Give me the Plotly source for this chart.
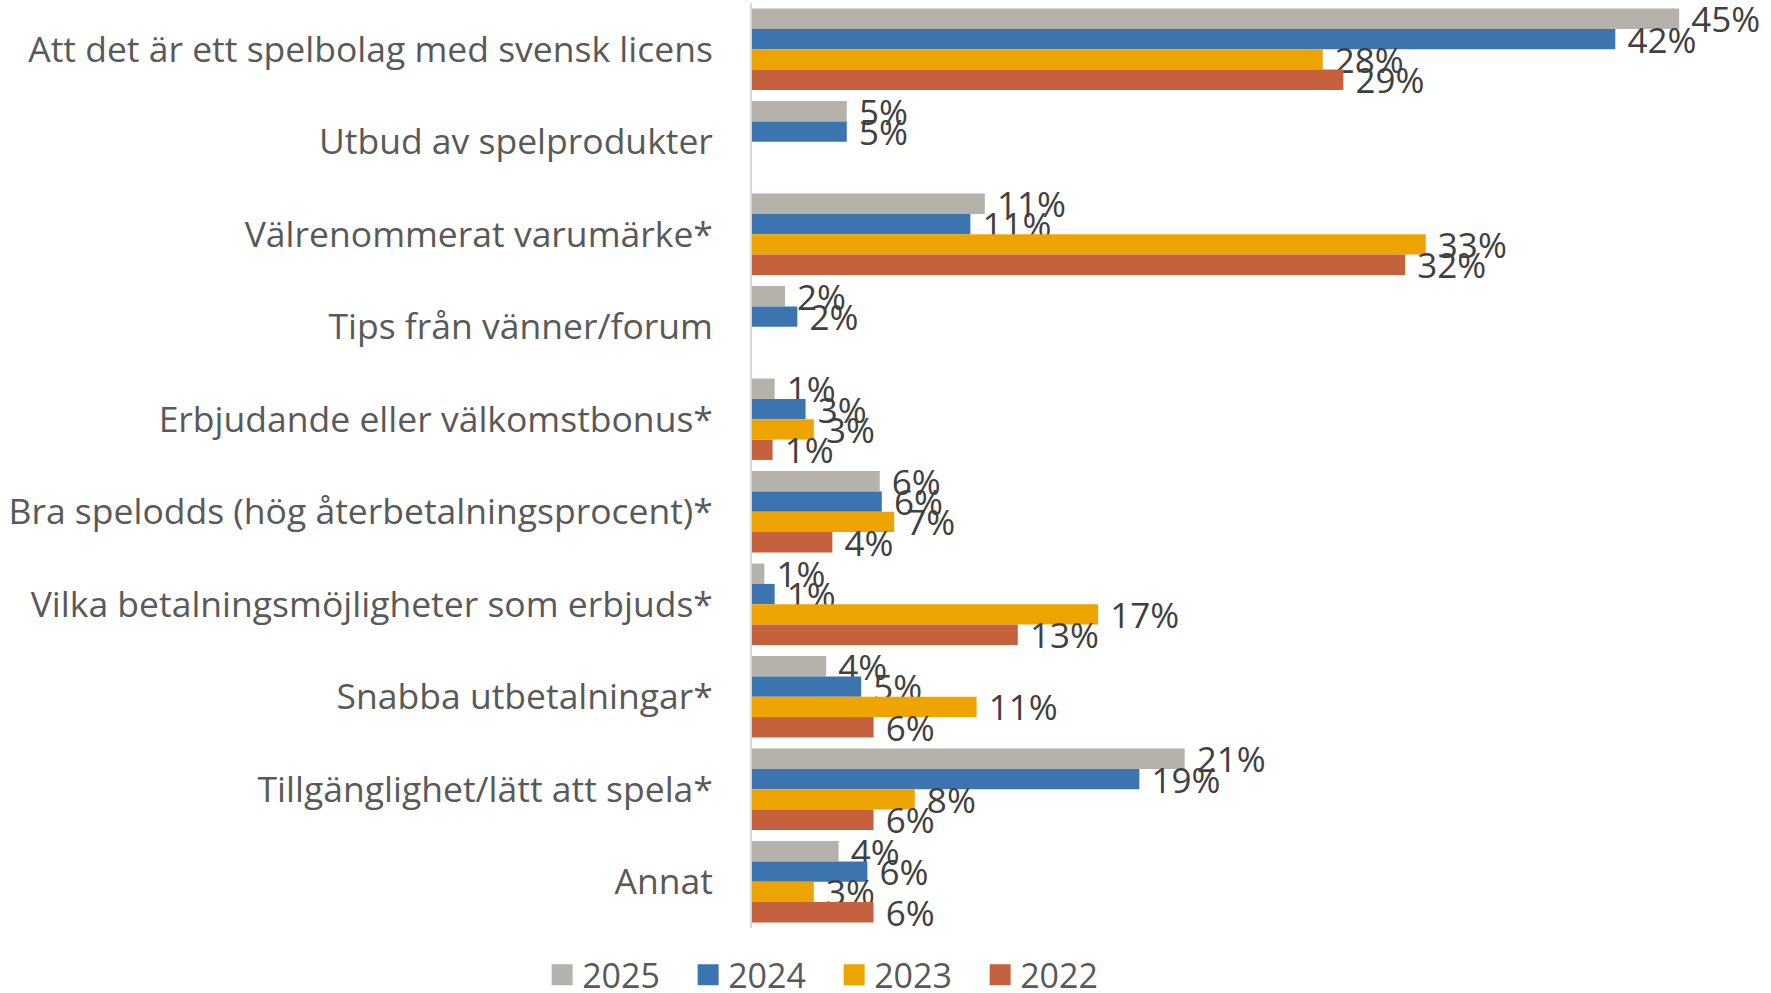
import plotly.graph_objects as go

categories = [
    "Att det är ett spelbolag med svensk licens",
    "Utbud av spelprodukter",
    "Välrenommerat varumärke*",
    "Tips från vänner/forum",
    "Erbjudande eller välkomstbonus*",
    "Bra spelodds (hög återbetalningsprocent)*",
    "Vilka betalningsmöjligheter som erbjuds*",
    "Snabba utbetalningar*",
    "Tillgänglighet/lätt att spela*",
    "Annat",
]

v2025 = [45.0, 4.6, 11.3, 1.6, 1.1, 6.2, 0.6, 3.6, 21.0, 4.2]
v2024 = [41.9, 4.6, 10.6, 2.2, 2.6, 6.3, 1.1, 5.3, 18.8, 5.6]
v2023 = [27.7, None, 32.7, None, 3.0, 6.9, 16.8, 10.9, 7.9, 3.0]
v2022 = [28.7, None, 31.7, None, 1.0, 3.9, 12.9, 5.9, 5.9, 5.9]

series = [
    ("2025", v2025, "#B5B2AB"),
    ("2024", v2024, "#3B74AE"),
    ("2023", v2023, "#EDA400"),
    ("2022", v2022, "#C5623D"),
]

FONT = "Open Sans"

fig = go.Figure()
for name, vals, color in series:
    fig.add_trace(go.Bar(
        name=name,
        y=categories,
        x=vals,
        orientation="h",
        marker=dict(color=color, line=dict(width=0)),
        texttemplate="\u00a0%{x:.0f}%",
        textposition="outside",
        textfont=dict(family=FONT, size=35, color="#404040"),
        constraintext="none",
        cliponaxis=False,
        showlegend=False,
        hoverinfo="skip",
    ))

# legend entries with larger square swatches
for name, vals, color in series:
    fig.add_trace(go.Scatter(
        name=name,
        x=[None],
        y=[None],
        mode="markers",
        marker=dict(symbol="square", size=22, color=color,
                    line=dict(color=color, width=5)),
        showlegend=True,
    ))

fig.update_layout(
    width=1771,
    height=993,
    barmode="group",
    bargap=0.12,
    bargroupgap=0.0,
    plot_bgcolor="white",
    paper_bgcolor="white",
    margin=dict(l=752, r=30, t=3, b=65),
    font=dict(family=FONT, color="#595959"),
    xaxis=dict(
        range=[0, 48],
        showgrid=False,
        zeroline=False,
        showticklabels=False,
        showline=False,
        fixedrange=True,
    ),
    yaxis=dict(
        autorange="reversed",
        showgrid=False,
        showline=True,
        linecolor="#D9D9D9",
        linewidth=2,
        ticks="",
        ticklabelstandoff=30,
        tickfont=dict(family=FONT, size=35.5, color="#595959"),
    ),
    legend=dict(
        orientation="h",
        xref="container",
        yref="container",
        x=0.471,
        y=0.018,
        xanchor="center",
        yanchor="middle",
        font=dict(family=FONT, size=34, color="#595959"),
        entrywidth=101,
        entrywidthmode="pixels",
        traceorder="normal",
        itemsizing="trace",
    ),
)

fig.write_html("out.html", config={"displayModeBar": False},
               post_script="document.body.style.margin='0';")
